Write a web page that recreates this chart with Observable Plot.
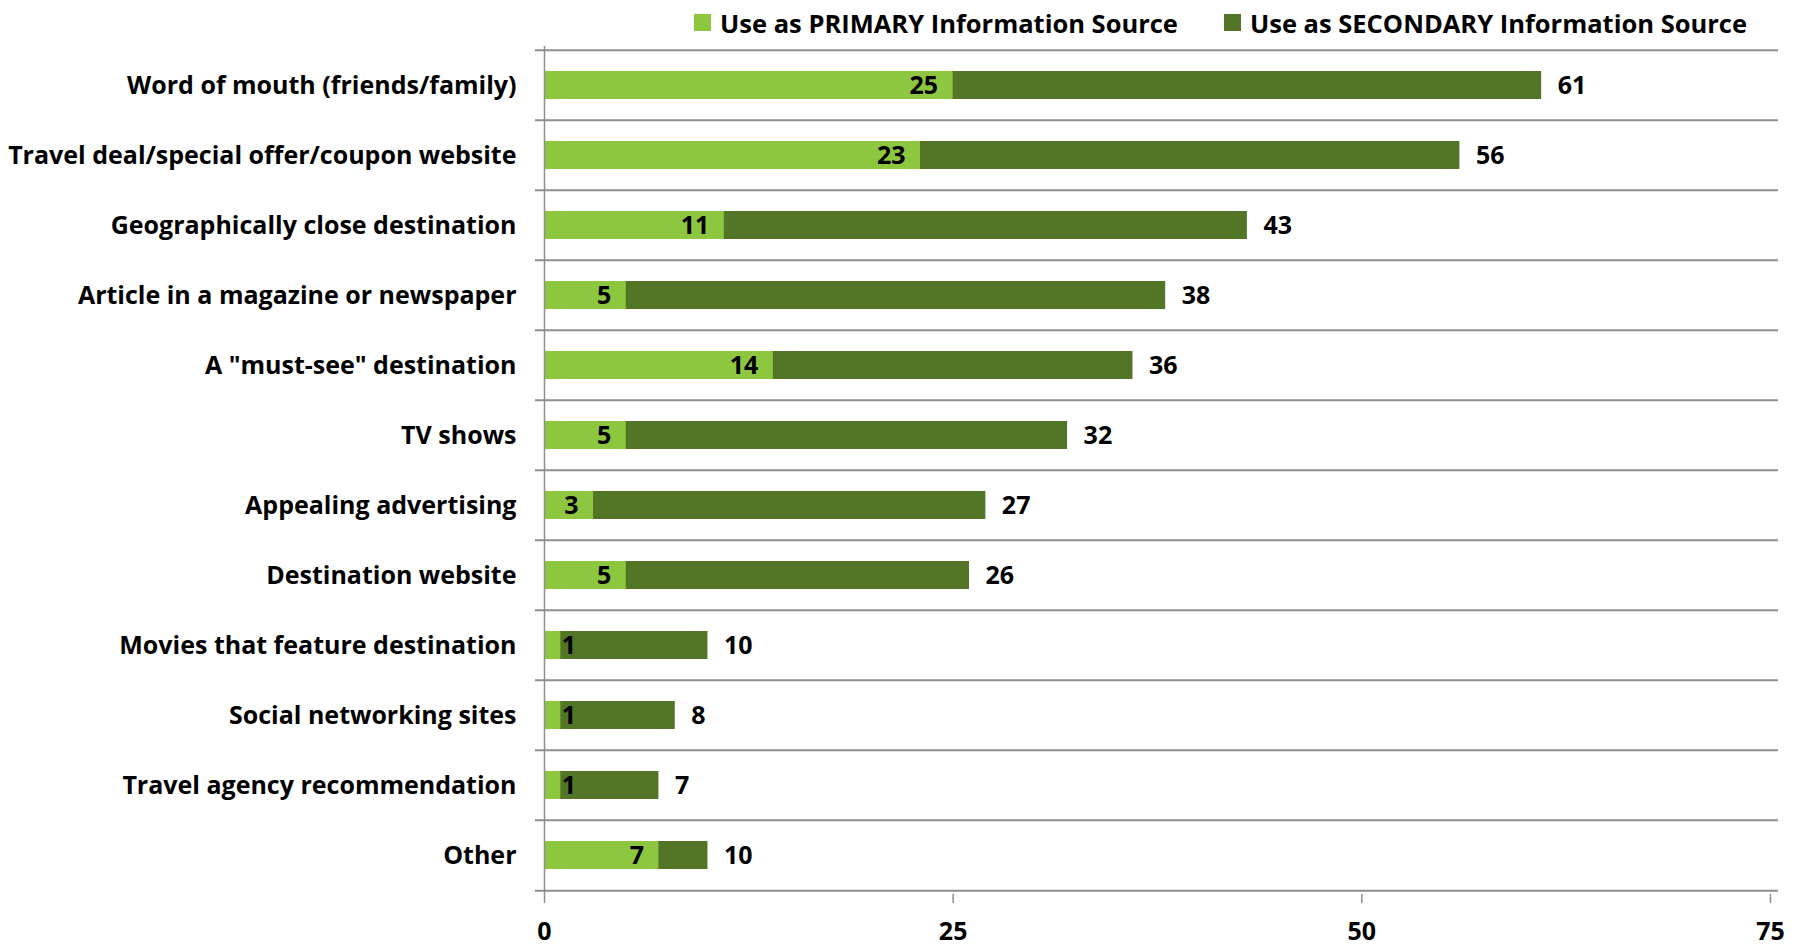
<!DOCTYPE html>
<html><head><meta charset="utf-8">
<script src="https://cdn.jsdelivr.net/npm/d3@7"></script>
<script src="https://cdn.jsdelivr.net/npm/@observablehq/plot@0.6"></script>
<style>
body{margin:0;background:#fff;font-family:"Open Sans", sans-serif;}
#legend{height:44px;display:flex;justify-content:flex-end;align-items:center;padding-right:52px;font-weight:700;font-size:25.5px;gap:46px;color:#000;box-sizing:border-box;padding-top:1px}
.item{display:flex;align-items:center;gap:9px}
.sw{width:17px;height:17px;display:inline-block}
</style></head><body>
<div id="legend"></div>
<div id="chart"></div>
<script>
const categories = [
  "Word of mouth (friends/family)",
  "Travel deal/special offer/coupon website",
  "Geographically close destination",
  "Article in a magazine or newspaper",
  "A \"must-see\" destination",
  "TV shows",
  "Appealing advertising",
  "Destination website",
  "Movies that feature destination",
  "Social networking sites",
  "Travel agency recommendation",
  "Other"
];
const primary   = [25, 23, 11, 5, 14, 5, 3, 5, 1, 1, 1, 7];
const secondary = [61, 56, 43, 38, 36, 32, 27, 26, 10, 8, 7, 10];
const seriesNames = ["Use as PRIMARY Information Source", "Use as SECONDARY Information Source"];
const xTicks = [0, 25, 50, 75];
const colors = ["#8dc63f", "#537526"];

const rows = categories.map((c, i) => ({category: c, primary: primary[i], secondary: secondary[i]}));

// legend
const legend = document.getElementById("legend");
seriesNames.forEach((name, i) => {
  const it = document.createElement("div");
  it.className = "item";
  const sw = document.createElement("span");
  sw.className = "sw";
  sw.style.background = colors[i];
  const t = document.createElement("span");
  t.textContent = name;
  it.appendChild(sw); it.appendChild(t);
  legend.appendChild(it);
});

const W = 1799, H = 901, mTop = 2, mBottom = 51;
const step = (H - mTop - mBottom) / categories.length;
const grid = "#8e8e8e";

const chart = Plot.plot({
  width: W,
  height: H,
  marginTop: mTop,
  marginBottom: mBottom,
  marginLeft: 535,
  marginRight: 21,
  insetLeft: 9,
  insetRight: 8,
  style: {fontFamily: "'Open Sans', sans-serif", fontSize: "25px", fontWeight: 700, color: "#000", background: "#fff"},
  x: {domain: [0, 75], axis: null},
  y: {domain: categories, paddingInner: 0.6, paddingOuter: 0.3, axis: null},
  marks: [
    Plot.ruleY(categories, {y: d => d, dy: -step / 2, stroke: grid, strokeWidth: 2}),
    Plot.ruleY([categories[categories.length - 1]], {y: d => d, dy: step / 2, stroke: grid, strokeWidth: 2}),
    Plot.barX(rows, {y: "category", x: "secondary", fill: colors[1]}),
    Plot.barX(rows, {y: "category", x: "primary", fill: colors[0]}),
    Plot.ruleX([0], {stroke: grid, strokeWidth: 1.5}),
    Plot.axisX({ticks: xTicks, tickSize: 9, tickPadding: 19, stroke: grid, strokeWidth: 1.5, fontSize: 25, tickFormat: d => String(d), label: null}),
    Plot.axisY({anchor: "left", tickSize: 0, tickPadding: 19, fontSize: 25, label: null}),
    Plot.text(rows.filter(d => d.primary >= 2), {y: "category", x: "primary", text: d => String(d.primary), textAnchor: "end", dx: -15, fill: "#000"}),
    Plot.text(rows.filter(d => d.primary < 2), {y: "category", x: "primary", text: d => String(d.primary), textAnchor: "start", dx: 1, fill: "#000"}),
    Plot.text(rows, {y: "category", x: "secondary", text: d => String(d.secondary), textAnchor: "start", dx: 16, fill: "#000"})
  ]
});
document.getElementById("chart").appendChild(chart);
</script>
</body></html>
